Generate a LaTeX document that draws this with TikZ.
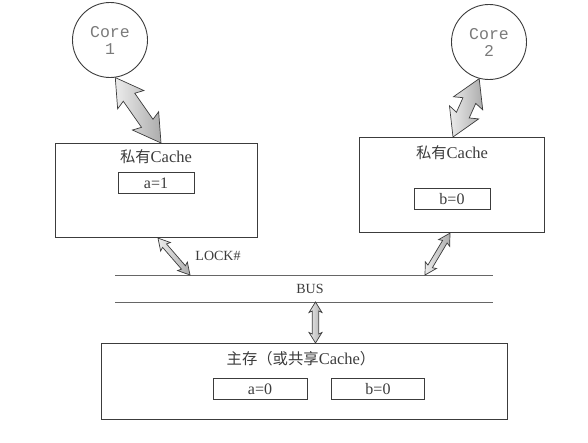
\documentclass[tikz,border=0pt]{standalone}
\usepackage{fontspec}
\setmainfont{Liberation Serif}
\setmonofont{Liberation Mono}
\newfontfamily\cjk[Scale=0.93]{Noto Sans CJK SC}
\usetikzlibrary{calc}
\definecolor{ink}{HTML}{3C3C3C}
\definecolor{coretext}{HTML}{7A7A7A}
\tikzset{
  boxline/.style={draw=ink, line width=1.1pt},
  cachebox/.style={boxline, anchor=north west, inner sep=0pt},
  valbox/.style={draw=ink, line width=1pt, minimum height=21pt, inner sep=0pt, text=ink, font=\fontsize{16}{18}\selectfont},
  corenode/.style={circle, draw=ink, line width=0.9pt, minimum size=75pt, inner sep=0pt, align=center, text=coretext, font=\ttfamily\fontsize{16.5}{17}\selectfont},
  label/.style={text=ink, font=\fontsize{16.5}{18}\selectfont, inner sep=1pt},
  smalllabel/.style={text=ink, font=\fontsize{14}{16}\selectfont, inner sep=1pt},
  busline/.style={draw=gray!80!black, line width=0.8pt},
  fatfill/.style={draw=ink, line width=0.7pt, left color=gray!15, right color=gray!65},
}
% #1 tip A, #2 tip B, #3 head length, #4 shaft half width, #5 head half width, #6 barb
\newcommand\fatdouble[6]{%
  \coordinate (fh1) at ($(#1)!#3!(#2)$);
  \coordinate (fh2) at ($(#2)!#3!(#1)$);
  \coordinate (fb1) at ($(#1)!#3+#6!(#2)$);
  \coordinate (fb2) at ($(#2)!#3+#6!(#1)$);
  \path[fatfill] (#1)
    -- ($(fb1)!#5!90:(#2)$) -- ($(fh1)!#4!90:(#2)$)
    -- ($(fh2)!#4!-90:(#1)$) -- ($(fb2)!#5!-90:(#1)$)
    -- (#2)
    -- ($(fb2)!#5!90:(#1)$) -- ($(fh2)!#4!90:(#1)$)
    -- ($(fh1)!#4!-90:(#2)$) -- ($(fb1)!#5!-90:(#2)$)
    -- cycle;
}
\begin{document}
\begin{tikzpicture}[x=1pt,y=-1pt]
\useasboundingbox (0,0) rectangle (588,443);
% cores
\node[corenode] (c1) at (110,40) {Core\\1};
\node[corenode] (c2) at (489,42) {Core\\2};
% private caches
\node[cachebox, minimum width=202pt, minimum height=94pt] (pc1) at (55,143) {};
\node[label] (t1) at (156,157) {{\cjk 私有}Cache};
\node[valbox, minimum width=76pt] (v1) at (156,183) {a=1};
\node[cachebox, minimum width=185pt, minimum height=95pt] (pc2) at (359,137) {};
\node[label] (t2) at (452,153) {{\cjk 私有}Cache};
\node[valbox, minimum width=76pt] (v2) at (452,199.5) {b=0};
% bus
\coordinate (b1l) at (115,275);
\coordinate (b1r) at (493,275);
\coordinate (b2l) at (115,302);
\coordinate (b2r) at (493,302);
\draw[busline] (b1l) -- (b1r);
\draw[busline] (b2l) -- (b2r);
\node[smalllabel] (bus) at (310,288.5) {BUS};
\node[smalllabel] (lock) at (218,256) {LOCK\#};
% main memory
\node[cachebox, minimum width=406pt, minimum height=76pt] (mm) at (101,343) {};
\node[label] (t3) at (301,359) {{\cjk 主存（或共享}Cache{\cjk ）}};
\node[valbox, minimum width=94pt] (v3) at (260,389) {a=0};
\node[valbox, minimum width=93pt] (v4) at (378,389) {b=0};
% arrows
\coordinate (a1s) at (c1.-82);
\coordinate (a1e) at ($(pc1.north west)+(106,0)$);
\fatdouble{a1s}{a1e}{24pt}{7pt}{16pt}{3pt}
\coordinate (a2s) at (c2.-105);
\coordinate (a2e) at ($(pc2.north west)+(94,0)$);
\fatdouble{a2s}{a2e}{24pt}{7pt}{16pt}{3pt}
\coordinate (a3s) at ($(pc1.south west)+(103,0)$);
\coordinate (a3e) at (190,275);
\fatdouble{a3s}{a3e}{10pt}{2.6pt}{6.5pt}{1.5pt}
\coordinate (a4s) at ($(pc2.south west)+(91,0)$);
\coordinate (a4e) at (425,275);
\fatdouble{a4s}{a4e}{10pt}{2.6pt}{6.5pt}{1.5pt}
\coordinate (a5s) at (315.5,302);
\coordinate (a5e) at ($(mm.north west)+(214.5,0)$);
\fatdouble{a5s}{a5e}{9pt}{3.2pt}{6.5pt}{1.5pt}
\end{tikzpicture}
\end{document}
